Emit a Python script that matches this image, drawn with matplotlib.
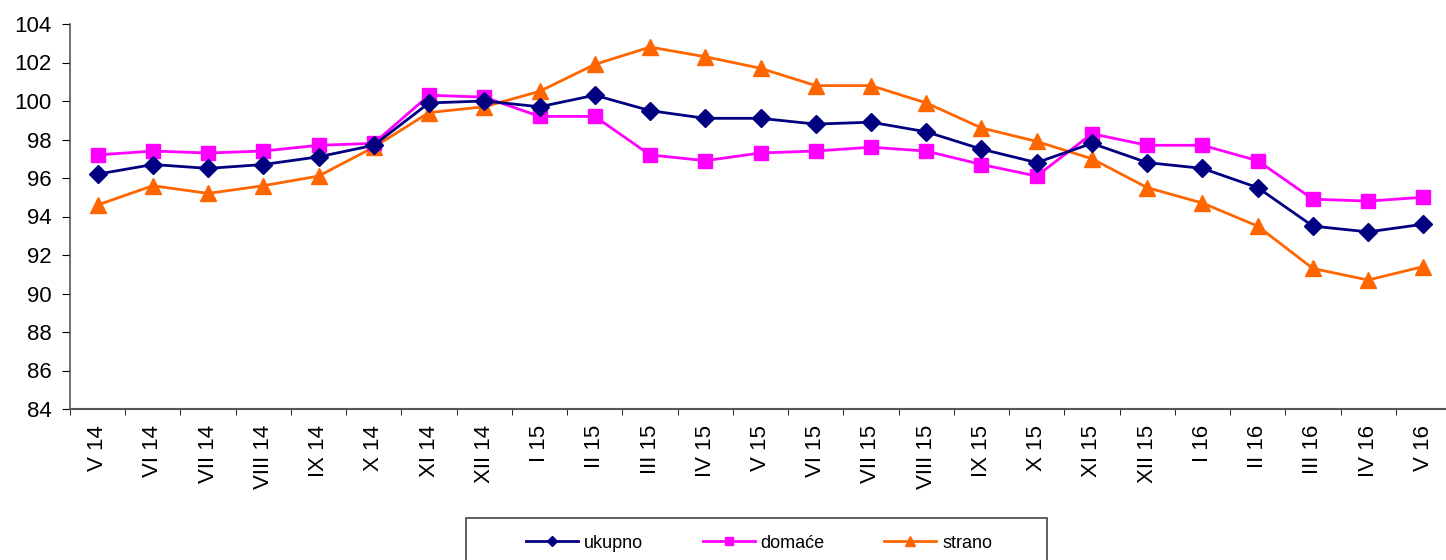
import matplotlib
matplotlib.use("Agg")
import matplotlib.pyplot as plt
from matplotlib.patches import Rectangle
import numpy as np

# ----------------------------
# Data
# ----------------------------
months = ["V 14", "VI 14", "VII 14", "VIII 14", "IX 14", "X 14", "XI 14", "XII 14",
          "I 15", "II 15", "III 15", "IV 15", "V 15", "VI 15", "VII 15", "VIII 15",
          "IX 15", "X 15", "XI 15", "XII 15", "I 16", "II 16", "III 16", "IV 16", "V 16"]

ukupno = [96.2, 96.7, 96.5, 96.7, 97.1, 97.7, 99.9, 100.0,
          99.7, 100.3, 99.5, 99.1, 99.1, 98.8, 98.9, 98.4,
          97.5, 96.8, 97.8, 96.8, 96.5, 95.5, 93.5, 93.2, 93.6]

domace = [97.2, 97.4, 97.3, 97.4, 97.7, 97.8, 100.3, 100.2,
          99.2, 99.2, 97.2, 96.9, 97.3, 97.4, 97.6, 97.4,
          96.7, 96.1, 98.3, 97.7, 97.7, 96.9, 94.9, 94.8, 95.0]

strano = [94.6, 95.6, 95.2, 95.6, 96.1, 97.6, 99.4, 99.7,
          100.5, 101.9, 102.8, 102.3, 101.7, 100.8, 100.8, 99.9,
          98.6, 97.9, 97.0, 95.5, 94.7, 93.5, 91.3, 90.7, 91.4]

series_names = ["ukupno", "domaće", "strano"]

# ----------------------------
# Figure
# ----------------------------
plt.rcParams["font.family"] = ["Liberation Sans", "DejaVu Sans"]

W, H = 1446, 560
fig = plt.figure(figsize=(W / 100, H / 100), dpi=100)
ax = fig.add_axes([70 / W, 1 - 409 / H, 1381 / W, (409 - 24) / H])

x = np.arange(len(months))
ax.plot(x, ukupno, color="#000080", lw=2.0, marker="D", ms=9, label=series_names[0], zorder=5)
ax.plot(x, domace, color="#FF00FF", lw=2.0, marker="s", ms=10, label=series_names[1], zorder=4)
ax.plot(x, strano, color="#FF6600", lw=2.0, marker="^", ms=11, label=series_names[2], zorder=3)

ax.set_xlim(-0.5, len(months) - 0.5)
ax.set_ylim(84, 104)
ax.set_yticks(np.arange(84, 105, 2))
ax.tick_params(axis="y", labelsize=16, length=6, direction="out", pad=7, colors="black")

ax.set_xticks(x)
ax.set_xticklabels(months, rotation=90, fontsize=16)
ax.set_xticks(np.arange(-0.5, len(months), 1), minor=True)
ax.tick_params(axis="x", which="major", length=0, pad=11.5)
ax.tick_params(axis="x", which="minor", length=4.5, direction="out", color="black")

for side in ["top", "right"]:
    ax.spines[side].set_visible(False)
ax.spines["left"].set_color("#555555")
ax.spines["bottom"].set_color("#555555")
ax.spines["left"].set_linewidth(1.2)
ax.spines["bottom"].set_linewidth(1.5)

# legend entries (no frame), frame drawn separately to match the box
leg = fig.legend(loc="center left", bbox_to_anchor=(526 / W, 1 - 543 / H),
                 ncol=3, fontsize=13, frameon=False, markerscale=0.6,
                 handlelength=2.88, handletextpad=0.33, columnspacing=3.3,
                 borderpad=0, borderaxespad=0)

fig.patches.append(Rectangle((466 / W, 1 - 575 / H), (1047 - 466) / W, (575 - 518) / H,
                             transform=fig.transFigure, fill=False,
                             edgecolor="#444444", lw=1.2))

fig.savefig("out.png", dpi=100)
